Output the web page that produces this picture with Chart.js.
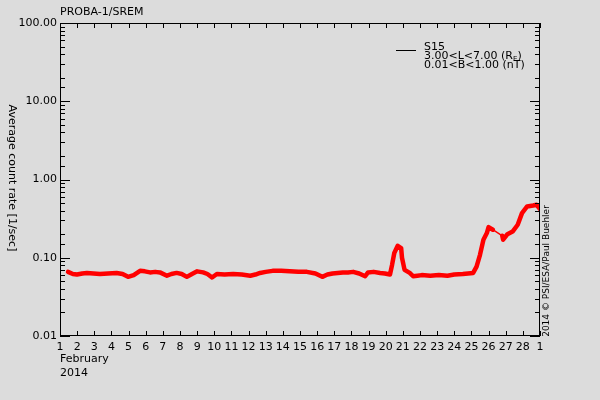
<!DOCTYPE html>
<html>
<head>
<meta charset="utf-8">
<script src="https://cdn.jsdelivr.net/npm/chart.js@4"></script>
<style>
  body { margin: 0; background: #dcdcdc; }
  canvas { display: block; }
</style>
</head>
<body>
<canvas id="sremChart" width="600" height="400"></canvas>
<script>
// day of February 2014 (29 = 1 March) and average count rate [1/sec]
const days = [1.47, 1.75, 1.99, 2.3, 2.57, 2.95, 3.33, 3.8, 4.3, 4.65, 4.97, 5.3, 5.67, 5.95, 6.25, 6.55, 6.83,
    7.24, 7.5, 7.8, 8.1, 8.4, 8.7, 9.0, 9.35, 9.6, 9.87, 10.15, 10.6, 11.1, 11.6, 12.1, 12.4, 12.67, 13.0, 13.4, 13.9,
    14.4, 14.9, 15.4, 15.9, 16.3, 16.6, 16.9, 17.2, 17.5, 17.8, 18.1, 18.45, 18.8, 18.97, 19.3, 19.67,
    19.95, 20.25, 20.37, 20.5, 20.7, 20.9, 20.95, 21.1, 21.4, 21.6, 21.85, 22.1, 22.6, 23.1, 23.6, 24.0,
    24.5, 24.8, 25.1, 25.3, 25.5, 25.7, 25.9, 26.0, 26.25, 26.8, 26.85, 27.1, 27.4, 27.7, 27.95, 28.25,
    28.6, 28.8, 29.0];
const rates = [0.066, 0.062, 0.061, 0.063, 0.064, 0.063, 0.062, 0.063, 0.064, 0.062, 0.057, 0.060, 0.068, 0.067, 0.065, 0.066, 0.065,
    0.059, 0.062, 0.064, 0.062, 0.057, 0.062, 0.067, 0.065, 0.062, 0.056, 0.062, 0.061, 0.062, 0.061, 0.059, 0.061, 0.064, 0.066, 0.068, 0.068,
    0.067, 0.066, 0.066, 0.063, 0.057, 0.061, 0.063, 0.064, 0.065, 0.065, 0.066, 0.063, 0.058, 0.065, 0.066, 0.064,
    0.063, 0.061, 0.081, 0.115, 0.142, 0.133, 0.1, 0.070, 0.064, 0.058, 0.059, 0.060, 0.059, 0.060, 0.059, 0.061,
    0.062, 0.063, 0.064, 0.077, 0.109, 0.17, 0.207, 0.246, 0.228, 0.191, 0.17, 0.2, 0.216, 0.264, 0.372, 0.452,
    0.465, 0.476, 0.42];
// stretch without measurements, joined by a thin line
const dataGaps = [[26.25, 26.8]];
const xTicks = [];
for (let d = 1; d <= 29; d++) xTicks.push(d);
const yMajor = [0.01, 0.1, 1, 10, 100];

const font = { family: 'DejaVu Sans', size: 11 };

const isMajor = v => Math.abs(Math.log10(v) - Math.round(Math.log10(v))) < 1e-6;
const inGap = (a, b) => dataGaps.some(g => a >= g[0] && b <= g[1]);

// frame, inward ticks and the free text of the plot
const decorPlugin = {
    id: 'decor',
    afterDraw(chart) {
        const ctx = chart.ctx;
        const a = chart.chartArea;
        const x = chart.scales.x, y = chart.scales.y;
        ctx.save();
        ctx.strokeStyle = '#000';
        ctx.lineWidth = 1;
        ctx.strokeRect(a.left + 0.5, a.top + 0.5, a.right - a.left - 1, a.bottom - a.top - 1);
        ctx.beginPath();
        xTicks.forEach(d => {
            const px = Math.round(x.getPixelForValue(d)) + 0.5;
            ctx.moveTo(px, a.bottom); ctx.lineTo(px, a.bottom - 5);
            ctx.moveTo(px, a.top); ctx.lineTo(px, a.top + 5);
        });
        y.ticks.forEach(t => {
            const py = Math.round(y.getPixelForValue(t.value)) + 0.5;
            const len = isMajor(t.value) ? 10 : 5;
            ctx.moveTo(a.left, py); ctx.lineTo(a.left + len, py);
            ctx.moveTo(a.right, py); ctx.lineTo(a.right - len, py);
        });
        ctx.stroke();

        ctx.fillStyle = '#000';
        ctx.font = '11px "DejaVu Sans"';
        ctx.textBaseline = 'middle';
        ctx.textAlign = 'left';
        ctx.fillText('PROBA-1/SREM', 60, 12);
        ctx.fillText('February', 60, 359);
        ctx.fillText('2014', 60, 373);

        // legend
        ctx.beginPath();
        ctx.moveTo(396, 50.5); ctx.lineTo(416, 50.5);
        ctx.stroke();
        ctx.fillText('S15', 424, 47);
        ctx.fillText('3.00<L<7.00 (R', 424, 56);
        let w = ctx.measureText('3.00<L<7.00 (R').width;
        ctx.font = '7px "DejaVu Sans"';
        ctx.fillText('E', 424 + w, 59);
        const we = ctx.measureText('E').width;
        ctx.font = '11px "DejaVu Sans"';
        ctx.fillText(')', 424 + w + we, 56);
        ctx.fillText('0.01<B<1.00 (nT)', 424, 65);

        // axis title, reads top to bottom
        ctx.save();
        ctx.translate(12, 178);
        ctx.rotate(Math.PI / 2);
        ctx.textAlign = 'center';
        ctx.fillText('Average count rate [1/sec]', 0, 0);
        ctx.restore();

        // credit, reads bottom to top
        ctx.save();
        ctx.translate(547, 271);
        ctx.rotate(-Math.PI / 2);
        ctx.textAlign = 'center';
        ctx.font = '9px "DejaVu Sans"';
        ctx.fillText('2014 \u00a9 PSI/ESA/Paul Buehler', 0, 0);
        ctx.restore();
        ctx.restore();
    }
};

new Chart(document.getElementById('sremChart').getContext('2d'), {
    type: 'line',
    data: {
        datasets: [{
            label: 'S15',
            data: days.map((d, i) => ({ x: d, y: rates[i] })),
            borderColor: '#ff0000',
            backgroundColor: '#ff0000',
            borderWidth: 4.5,
            borderJoinStyle: 'round',
            borderCapStyle: 'round',
            pointRadius: 0,
            tension: 0,
            segment: {
                borderWidth: c => (inGap(c.p0.parsed.x, c.p1.parsed.x) ? 1.5 : 4.5)
            }
        }]
    },
    options: {
        responsive: false,
        animation: false,
        layout: { padding: { top: 23, right: 60 } },
        plugins: {
            legend: { display: false },
            tooltip: { enabled: false }
        },
        scales: {
            x: {
                type: 'linear',
                min: 1,
                max: 29,
                afterBuildTicks: s => { s.ticks = xTicks.map(v => ({ value: v })); },
                afterFit: s => { s.height = 64; },
                grid: { display: false, drawTicks: false },
                border: { display: false },
                ticks: {
                    autoSkip: false,
                    maxRotation: 0,
                    padding: 5,
                    color: '#000',
                    font: font,
                    callback: v => (v === 29 ? '1' : String(v))
                }
            },
            y: {
                type: 'logarithmic',
                min: 0.01,
                max: 100,
                afterFit: s => { s.width = 60; },
                grid: { display: false, drawTicks: false },
                border: { display: false },
                ticks: {
                    autoSkip: false,
                    padding: 3,
                    color: '#000',
                    font: font,
                    callback: v => (yMajor.some(m => Math.abs(m - v) / m < 1e-6) ? v.toFixed(2) : '')
                }
            }
        }
    },
    plugins: [decorPlugin]
});
</script>
</body>
</html>
